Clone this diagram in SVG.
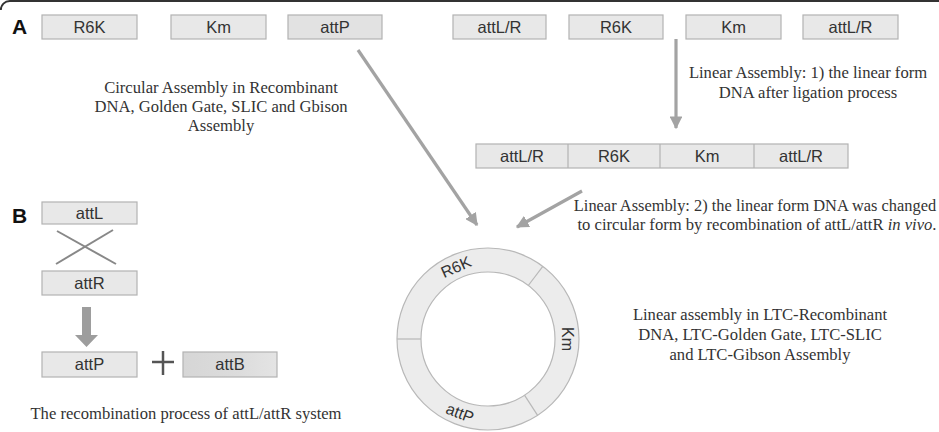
<svg xmlns="http://www.w3.org/2000/svg" width="939" height="432" viewBox="0 0 939 432">
<defs>
<marker id="ah" viewBox="0 0 10 10" refX="9" refY="5" markerWidth="4" markerHeight="4" orient="auto" markerUnits="strokeWidth">
<path d="M0,0 L10,5 L0,10 Z" fill="#a3a3a3"/>
</marker>
<linearGradient id="gb" x1="0" y1="0" x2="1" y2="0">
<stop offset="0" stop-color="#d6d6d6"/><stop offset="0.6" stop-color="#dcdcdc"/><stop offset="1" stop-color="#e4e4e4"/>
</linearGradient>
</defs>
<style>
.box{fill:#e8e8e8;stroke:#b2b2b2;stroke-width:1.2}
.bl{font-family:"Liberation Sans",Arial,sans-serif;font-size:16.5px;fill:#333;text-anchor:middle}
.rl{font-family:"Liberation Sans",Arial,sans-serif;font-size:16px;fill:#333;text-anchor:middle;dominant-baseline:central}
.cap{font-family:"Liberation Serif","Times New Roman",serif;font-size:16.6px;fill:#333;text-anchor:middle}
.big{font-family:"Liberation Sans",Arial,sans-serif;font-size:21px;font-weight:bold;fill:#111}
.arr{stroke:#a3a3a3;stroke-width:3.2;fill:none}
</style>
<rect width="939" height="432" fill="#fff"/>
<path d="M0.8,10 A9,9 0 0 1 9.8,1 H939" fill="none" stroke="#333" stroke-width="2"/>

<text class="big" x="12" y="34">A</text>
<text class="big" x="12" y="223">B</text>

<g id="a-r6k"><rect class="box" x="42" y="15" width="95" height="24"/><text class="bl" x="89.5" y="33">R6K</text></g>
<g id="a-km"><rect class="box" x="171" y="15" width="95" height="24"/><text class="bl" x="218.5" y="33">Km</text></g>
<g id="a-attp"><rect class="box" x="288" y="15" width="94" height="24" style="fill:#e2e2e2"/><text class="bl" x="335" y="33">attP</text></g>

<g id="l-attlr1"><rect class="box" x="453" y="15" width="93" height="24"/><text class="bl" x="499.5" y="33">attL/R</text></g>
<g id="l-r6k"><rect class="box" x="569" y="15" width="94" height="24"/><text class="bl" x="616" y="33">R6K</text></g>
<g id="l-km"><rect class="box" x="686" y="15" width="95" height="24"/><text class="bl" x="733.5" y="33">Km</text></g>
<g id="l-attlr2"><rect class="box" x="803" y="15" width="95" height="24"/><text class="bl" x="850.5" y="33">attL/R</text></g>

<g id="linear-bar">
<rect class="box" x="476" y="144" width="372" height="24"/>
<line x1="568" y1="144" x2="568" y2="168" stroke="#b2b2b2" stroke-width="1.2"/>
<line x1="660" y1="144" x2="660" y2="168" stroke="#b2b2b2" stroke-width="1.2"/>
<line x1="754" y1="144" x2="754" y2="168" stroke="#b2b2b2" stroke-width="1.2"/>
<text class="bl" x="522" y="162">attL/R</text>
<text class="bl" x="614" y="162">R6K</text>
<text class="bl" x="707" y="162">Km</text>
<text class="bl" x="801" y="162">attL/R</text>
</g>

<g id="ring">
<circle cx="488" cy="339" r="91" fill="#ececec" stroke="#b8b8b8" stroke-width="1.2"/>
<circle cx="488" cy="339" r="67" fill="#fff" stroke="#b8b8b8" stroke-width="1.2"/>
<line x1="397" y1="339" x2="421" y2="339" stroke="#b8b8b8" stroke-width="1.2"/>
<line x1="528.3" y1="285.5" x2="542.8" y2="266.3" stroke="#b8b8b8" stroke-width="1.2"/>
<line x1="524.5" y1="395.2" x2="537.6" y2="415.3" stroke="#b8b8b8" stroke-width="1.2"/>
<text class="rl" transform="translate(456,267) rotate(-24)">R6K</text>
<text class="rl" transform="translate(567,339) rotate(90)">Km</text>
<text class="rl" transform="translate(460,413) rotate(21)">attP</text>
</g>

<g id="connectors">
<line class="arr" x1="358" y1="50" x2="477" y2="225" marker-end="url(#ah)"/>
<line class="arr" x1="676" y1="39" x2="676" y2="128" marker-end="url(#ah)"/>
<line class="arr" x1="582" y1="191" x2="517" y2="227" marker-end="url(#ah)"/>
</g>

<g id="texts">
<text class="cap" x="221" y="93">Circular Assembly in Recombinant</text>
<text class="cap" x="221" y="112">DNA, Golden Gate, SLIC and Gbison</text>
<text class="cap" x="221" y="131">Assembly</text>
<text class="cap" x="808" y="78">Linear Assembly: 1) the linear form</text>
<text class="cap" x="808" y="98">DNA after ligation process</text>
<text class="cap" x="755" y="211" style="font-size:16.4px">Linear Assembly: 2) the linear form DNA was changed</text>
<text class="cap" x="757" y="230">to circular form by recombination of attL/attR <tspan font-style="italic">in vivo</tspan>.</text>
<text class="cap" x="760" y="320">Linear assembly in LTC-Recombinant</text>
<text class="cap" x="760" y="340">DNA, LTC-Golden Gate, LTC-SLIC</text>
<text class="cap" x="760" y="360">and LTC-Gibson Assembly</text>
<text class="cap" x="186" y="419">The recombination process of attL/attR system</text>
</g>

<g id="b-attl"><rect class="box" x="42" y="202" width="95" height="22"/><text class="bl" x="89.5" y="219">attL</text></g>
<g id="b-cross">
<line x1="56" y1="264" x2="113" y2="230" stroke="#888" stroke-width="2"/>
<line x1="57" y1="231" x2="116" y2="264" stroke="#888" stroke-width="2"/>
</g>
<g id="b-attr"><rect class="box" x="42" y="271" width="95" height="24"/><text class="bl" x="89.5" y="289">attR</text></g>
<g id="b-arrow"><path d="M82,307 H91 V335 H98 L86.5,347 L75,335 H82 Z" fill="#9d9d9d"/></g>
<g id="b-attp"><rect class="box" x="42" y="352" width="95" height="25"/><text class="bl" x="89.5" y="370">attP</text></g>
<g id="b-plus">
<line x1="152" y1="362" x2="174" y2="362" stroke="#555" stroke-width="2.5"/>
<line x1="163" y1="351" x2="163" y2="375" stroke="#555" stroke-width="2.5"/>
</g>
<g id="b-attb"><rect class="box" x="183" y="352" width="94" height="25" style="fill:url(#gb)"/><text class="bl" x="230" y="370">attB</text></g>
</svg>
